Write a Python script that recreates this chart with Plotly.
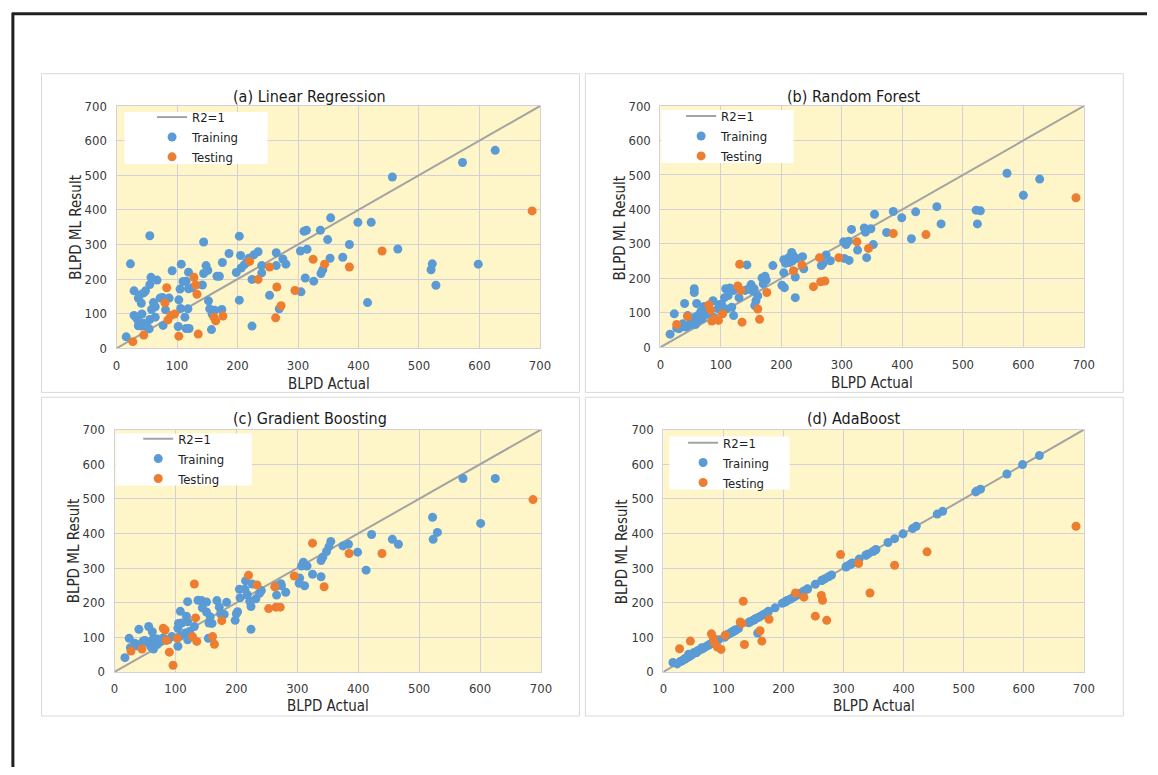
import plotly.graph_objects as go

# ---------------- data ----------------
TITLES = ["(a) Linear Regression", "(b) Random Forest", "(c) Gradient Boosting", "(d) AdaBoost"]
X_LABEL = "BLPD Actual"
Y_LABEL = "BLPD ML Result"
TICKS = [0, 100, 200, 300, 400, 500, 600, 700]
DIAG = [0, 700]

# testing set (same actual values for every model)
test_x = [27, 45, 80, 83, 85, 90, 96, 103, 128, 131, 133, 135, 161, 164, 176, 220, 234, 253,
          263, 265, 272, 295, 325, 344, 385, 439, 687]
test_y_lr = [19, 38, 131, 175, 82, 95, 99, 35, 205, 183, 156, 41, 90, 79, 93, 251, 199, 235,
             88, 177, 123, 167, 257, 243, 235, 281, 397]
test_y_rf = [66, 89, 123, 108, 76, 83, 78, 97, 178, 241, 165, 73, 111, 81, 159, 222, 239, 176,
             260, 190, 192, 260, 306, 287, 330, 327, 434]
test_y_gb = [60, 66, 126, 121, 91, 57, 19, 97, 102, 254, 156, 88, 102, 80, 148, 279, 251, 183,
             246, 187, 187, 277, 372, 246, 342, 342, 498]
test_y_ab = [67, 89, 110, 98, 84, 72, 65, 106, 144, 140, 204, 79, 119, 89, 152, 228, 216, 161,
             221, 207, 149, 339, 313, 228, 308, 347, 421]

# training set - linear regression & AdaBoost
train_x_lr = [16, 23, 29, 29, 32, 35, 36, 36, 38, 41, 42, 42, 44, 45, 48, 51, 54, 55, 55, 55,
              57, 58, 61, 64, 64, 67, 72, 76, 77, 81, 87, 92, 102, 103, 105, 106, 107, 110, 113, 115,
              115, 118, 119, 119, 120, 125, 142, 144, 144, 148, 151, 152, 154, 157, 158, 162, 166, 170, 174, 175,
              186, 198, 203, 203, 205, 206, 211, 215, 219, 224, 224, 227, 234, 240, 240, 253, 264, 264, 269, 275,
              280, 304, 305, 310, 312, 314, 315, 326, 337, 338, 341, 349, 353, 354, 374, 385, 399, 415, 421, 456,
              465, 520, 522, 528, 572, 598, 626]
train_y_lr = [33, 244, 166, 95, 90, 82, 145, 65, 154, 130, 99, 64, 72, 160, 166, 61, 56, 325, 184, 83,
              205, 112, 132, 120, 90, 197, 145, 147, 66, 111, 145, 224, 63, 140, 171, 115, 243, 193, 90, 194,
              57, 114, 220, 172, 57, 175, 183, 307, 216, 239, 225, 137, 114, 54, 99, 110, 208, 208, 112, 248,
              274, 219, 324, 139, 268, 232, 241, 248, 260, 64, 199, 270, 279, 239, 218, 153, 276, 239, 114, 258,
              243, 281, 163, 338, 203, 341, 286, 194, 341, 216, 227, 314, 260, 377, 263, 300, 364, 132, 364, 495,
              287, 227, 244, 182, 537, 243, 572]
train_y_ab = [27, 23, 31, 30, 33, 37, 38, 37, 40, 42, 51, 44, 46, 47, 50, 56, 55, 58, 57, 56,
              60, 62, 64, 70, 66, 69, 74, 78, 79, 83, 89, 93, 100, 104, 106, 107, 108, 110, 114, 116,
              115, 119, 120, 119, 121, 125, 142, 144, 145, 148, 150, 152, 154, 112, 157, 161, 165, 169, 173, 175,
              185, 198, 202, 203, 205, 206, 210, 214, 218, 223, 224, 227, 234, 239, 240, 253, 264, 265, 269, 275,
              280, 303, 305, 309, 312, 313, 315, 326, 337, 338, 341, 348, 352, 354, 374, 385, 399, 414, 421, 456,
              464, 520, 523, 528, 572, 599, 625]

# training set - random forest
train_x_rf = [16, 23, 27, 31, 33, 37, 40, 42, 45, 48, 50, 51, 56, 56, 57, 58, 60, 62, 63, 67,
              69, 72, 75, 87, 88, 95, 98, 101, 106, 108, 109, 112, 115, 118, 121, 121, 130, 140, 143, 144,
              150, 153, 155, 156, 158, 161, 168, 170, 173, 175, 186, 201, 204, 204, 205, 207, 212, 213, 217, 218,
              220, 223, 223, 225, 235, 237, 266, 269, 274, 281, 303, 304, 307, 311, 312, 316, 326, 337, 339, 341,
              348, 352, 354, 374, 385, 399, 415, 422, 457, 464, 522, 524, 529, 573, 600, 627]
train_y_rf = [38, 97, 56, 54, 62, 68, 127, 59, 92, 64, 70, 83, 170, 159, 87, 66, 127, 92, 78, 104,
              83, 118, 95, 135, 87, 112, 124, 125, 144, 170, 111, 150, 172, 116, 165, 92, 144, 165, 239, 168,
              182, 163, 170, 121, 135, 149, 201, 184, 206, 195, 237, 180, 254, 216, 173, 244, 260, 246, 275, 250,
              265, 204, 144, 258, 263, 228, 237, 244, 268, 251, 306, 258, 298, 308, 252, 342, 282, 346, 334, 260,
              344, 298, 386, 333, 394, 376, 315, 393, 408, 358, 398, 358, 396, 505, 441, 488]

# training set - gradient boosting
train_x_gb = [17, 24, 26, 33, 36, 40, 42, 47, 50, 56, 56, 60, 62, 64, 64, 70, 70, 76, 80, 88,
              94, 104, 104, 105, 107, 108, 110, 116, 118, 120, 120, 120, 123, 131, 137, 143, 144, 151, 151, 154,
              155, 157, 160, 168, 172, 174, 180, 184, 198, 200, 202, 205, 206, 214, 215, 218, 222, 224, 224, 226,
              232, 238, 241, 266, 266, 273, 274, 281, 303, 304, 307, 310, 312, 316, 325, 339, 339, 342, 348, 352,
              355, 375, 384, 399, 413, 422, 456, 466, 522, 523, 530, 572, 601, 625]
train_y_gb = [41, 97, 70, 83, 75, 123, 79, 89, 91, 131, 83, 72, 116, 97, 66, 79, 95, 88, 98, 93,
              102, 126, 74, 140, 103, 175, 141, 112, 161, 203, 145, 93, 117, 131, 207, 206, 185, 202, 173, 97,
              141, 159, 140, 206, 187, 168, 166, 201, 149, 168, 174, 239, 214, 239, 263, 223, 204, 189, 123, 254,
              211, 227, 235, 249, 222, 255, 249, 230, 256, 271, 306, 317, 249, 306, 282, 322, 275, 332, 348, 362,
              377, 364, 369, 346, 294, 397, 383, 369, 447, 383, 403, 559, 429, 559]

PANELS = [
    (train_x_lr, train_y_lr, test_y_lr),
    (train_x_rf, train_y_rf, test_y_rf),
    (train_x_gb, train_y_gb, test_y_gb),
    (train_x_lr, train_y_ab, test_y_ab),
]

# ---------------- layout (page pixels of the 1158 x 775 window) ----------------
W, H = 1158, 775
FONT = "Liberation Sans Narrow, Arial Narrow, DejaVu Sans Condensed, Liberation Sans, sans-serif"
BLUE, ORANGE, GREY = "#5B9BD5", "#ED7D31", "#A3A3A3"
PLOT_BG = "#FEF6C8"
GRID = "#D3D0D8"

# plot-area rectangles: x0, x1, ytop, ybottom (page px)
AREAS = [(114, 543, 101, 348), (665, 1094, 101, 347), (112, 544, 431, 678), (668, 1094, 431, 678)]
BOXES = [(38, 583, 68, 393), (589, 1134, 68, 393), (38, 583, 398, 723), (589, 1134, 398, 723)]
TITLE_POS = [(310, 91), (861, 91), (310, 420), (861, 420)]
XT_POS = [(329, 384), (879, 383), (328, 713), (881, 713)]
YT_POS = [(73, 225), (624, 225), (71, 555), (626, 555)]
LEG_BOX = [(122, 267, 107, 160), (666, 800, 105, 159), (113, 251, 435, 488), (674, 796, 438, 492)]
LEG_POS = [(150, 97), (686, 96), (136, 425), (688, 429)]


def px(x):
    return x / W


def py(y):
    return 1 - y / H


fig = go.Figure()
layout = dict(
    width=W, height=H, margin=dict(l=0, r=0, t=0, b=0),
    paper_bgcolor="white", plot_bgcolor=PLOT_BG,
    font=dict(family=FONT, size=14, color="#333333"),
    showlegend=True,
)
shapes = []
annotations = []

for i, (tx, ty, sy) in enumerate(PANELS):
    n = "" if i == 0 else str(i + 1)
    xa, ya = "x" + n, "y" + n
    leg = "legend" + n
    fig.add_trace(go.Scatter(x=DIAG, y=DIAG, mode="lines", name="R2=1",
                             line=dict(color=GREY, width=2), xaxis=xa, yaxis=ya, legend=leg))
    fig.add_trace(go.Scatter(x=tx, y=ty, mode="markers", name="Training",
                             marker=dict(color=BLUE, size=9), xaxis=xa, yaxis=ya, legend=leg))
    fig.add_trace(go.Scatter(x=test_x, y=sy, mode="markers", name="Testing",
                             marker=dict(color=ORANGE, size=9), xaxis=xa, yaxis=ya, legend=leg))
    x0, x1, yt, yb = AREAS[i]
    axis_common = dict(range=[0, 700], tickvals=TICKS, showgrid=True, gridcolor=GRID, gridwidth=1,
                       zeroline=False, showline=True, linecolor=GRID, linewidth=1, mirror=True,
                       ticks="", tickfont=dict(family=FONT, size=13, color="#3A3A3A"), fixedrange=True)
    layout["xaxis" + n] = dict(domain=[px(x0), px(x1)], anchor=ya, ticklabelstandoff=5, **axis_common)
    layout["yaxis" + n] = dict(domain=[py(yb), py(yt)], anchor=xa, ticklabelstandoff=6, **axis_common)
    lx, ly = LEG_POS[i]
    layout[leg] = dict(x=px(lx), y=py(ly), xanchor="left", yanchor="top", xref="paper", yref="paper",
                       bgcolor="rgba(0,0,0,0)", borderwidth=0, itemwidth=30, tracegroupgap=0,
                       font=dict(family=FONT, size=13, color="#222222"))
    bx0, bx1, by0, by1 = LEG_BOX[i]
    shapes.append(dict(type="rect", xref="paper", yref="paper", x0=px(bx0), x1=px(bx1),
                       y0=py(by1), y1=py(by0), fillcolor="white", line=dict(width=0), layer="above"))
    b0, b1, bt, bb = BOXES[i]
    shapes.append(dict(type="rect", xref="paper", yref="paper", x0=px(b0), x1=px(b1),
                       y0=py(bb), y1=py(bt), line=dict(color="#D9D9D9", width=1), layer="below"))
    tx_, ty_ = TITLE_POS[i]
    annotations.append(dict(text=TITLES[i], x=px(tx_), y=py(ty_), xref="paper", yref="paper",
                            showarrow=False, xanchor="center", yanchor="middle",
                            font=dict(family=FONT, size=16, color="#1A1A1A")))
    ax_, ay_ = XT_POS[i]
    annotations.append(dict(text=X_LABEL, x=px(ax_), y=py(ay_), xref="paper", yref="paper",
                            showarrow=False, xanchor="center", yanchor="middle",
                            font=dict(family=FONT, size=15, color="#2A2A2A")))
    yx_, yy_ = YT_POS[i]
    annotations.append(dict(text=Y_LABEL, x=px(yx_), y=py(yy_), xref="paper", yref="paper",
                            showarrow=False, xanchor="center", yanchor="middle", textangle=-90,
                            font=dict(family=FONT, size=15, color="#2A2A2A")))

# outer black frame (top and left edges of the scanned page)
shapes.append(dict(type="line", xref="paper", yref="paper", x0=px(8), x1=1, y0=py(7), y1=py(7),
                   line=dict(color="#202020", width=3)))
shapes.append(dict(type="line", xref="paper", yref="paper", x0=px(9), x1=px(9), y0=py(6), y1=0,
                   line=dict(color="#202020", width=3)))

layout["shapes"] = shapes
layout["annotations"] = annotations
fig.update_layout(**layout)
fig.write_html("out.html")
